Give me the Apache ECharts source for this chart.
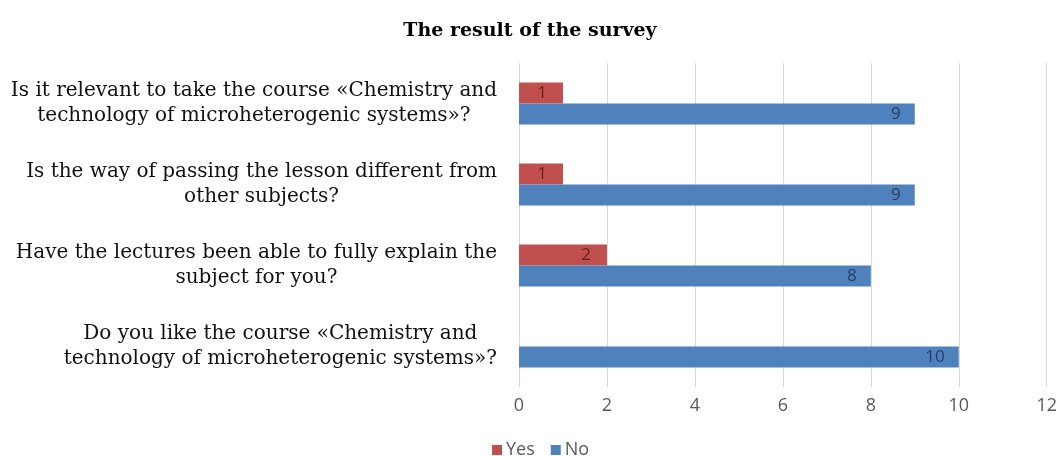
<!DOCTYPE html>
<html>
<head>
<meta charset="utf-8">
<title>The result of the survey</title>
<script src="https://cdn.jsdelivr.net/npm/echarts@6/dist/echarts.min.js"></script>
<style>
  html, body { margin: 0; padding: 0; background: #fff; }
  #chart { width: 1060px; height: 456px; }
</style>
</head>
<body>
<div id="chart"></div>
<script>
// questions, top to bottom
const questions = [
    'Is it relevant to take the course «Chemistry and\ntechnology of microheterogenic systems»?',
    'Is the way of passing the lesson different from\nother subjects?',
    'Have the lectures been able to fully explain the\nsubject for you?',
    'Do you like the course «Chemistry and\ntechnology of microheterogenic systems»?'
];
const yesValues = [1, 1, 2, 0];
const noValues = [9, 9, 8, 10];
const xTicks = [0, 2, 4, 6, 8, 10, 12];

let chart = echarts.init(document.getElementById('chart'));

const option = {
    backgroundColor: '#fff',
    title: {
        text: 'The result of the survey',
        left: 'center',
        top: 17,
        textStyle: {
            fontFamily: 'DejaVu Serif',
            fontWeight: 'bold',
            fontSize: 19,
            color: '#000'
        }
    },
    legend: {
        top: 439,
        left: 492,
        padding: 0,
        itemWidth: 10,
        itemHeight: 10,
        itemGap: 16,
        icon: 'rect',
        textStyle: { fontFamily: 'Open Sans', fontSize: 18, lineHeight: 22, color: '#595959', padding: [0, 0, 0, -1] },
        data: ['Yes', 'No']
    },
    grid: {
        left: 519,
        right: 13,
        top: 63,
        bottom: 69
    },
    xAxis: {
        type: 'value',
        min: xTicks[0],
        max: xTicks[xTicks.length - 1],
        interval: 2,
        axisLine: { show: false },
        axisTick: { show: false },
        axisLabel: { fontFamily: 'Open Sans', fontSize: 18, color: '#595959', margin: 10 },
        splitLine: { lineStyle: { color: '#d9d9d9' } }
    },
    yAxis: {
        type: 'category',
        inverse: true,
        data: questions,
        axisLine: { show: false },
        axisTick: { show: false },
        axisLabel: {
            margin: 22,
            formatter: function (v) {
                return v.split('\n').map(function (s) { return '{c|' + s + '}'; }).join('\n');
            },
            rich: {
                c: {
                    align: 'center',
                    fontFamily: 'DejaVu Serif',
                    fontSize: 20,
                    lineHeight: 25,
                    color: '#111'
                }
            }
        }
    },
    series: [
        {
            name: 'Yes',
            type: 'bar',
            data: yesValues,
            barWidth: 21,
            barGap: '0%',
            itemStyle: { color: '#c0504d' },
            label: {
                show: true,
                position: 'insideRight',
                distance: 16,
                fontFamily: 'Open Sans',
                fontSize: 17,
                color: '#6e1f1c',
                formatter: function (p) { return p.value ? p.value : ''; }
            }
        },
        {
            name: 'No',
            type: 'bar',
            data: noValues,
            barWidth: 21,
            barGap: '0%',
            itemStyle: { color: '#4f81bd' },
            label: {
                show: true,
                position: 'insideRight',
                distance: 14,
                fontFamily: 'Open Sans',
                fontSize: 17,
                color: '#24406b'
            }
        }
    ]
};
chart.setOption(option);
window.addEventListener('resize', function () {
    chart.resize();
});
</script>
</body>
</html>
